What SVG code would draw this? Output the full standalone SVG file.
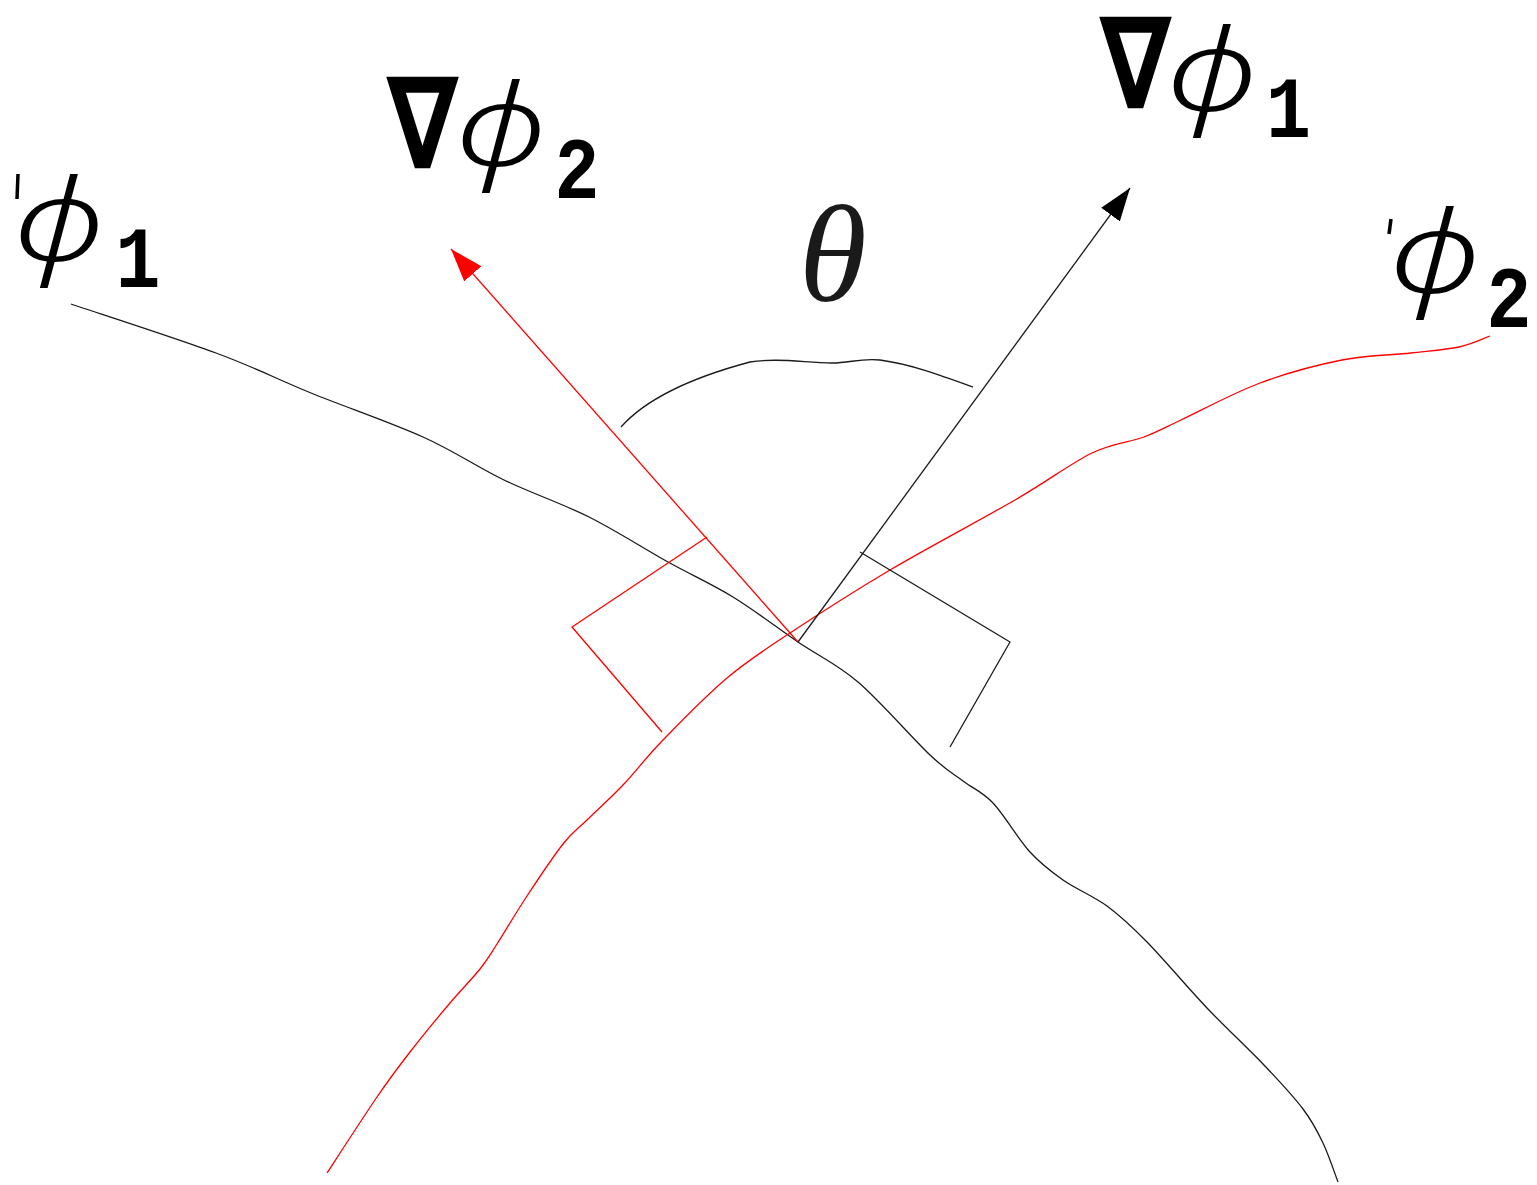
<svg xmlns="http://www.w3.org/2000/svg" width="1537" height="1185" viewBox="0 0 1537 1185">
<style>
.k{fill:none;stroke:#1a1a1a;stroke-width:1.3;stroke-linejoin:round}
.r{fill:none;stroke:#ff0000;stroke-width:1.3;stroke-linejoin:round}
.nab{font-family:"DejaVu Sans",sans-serif;font-weight:bold;font-size:127px;fill:#000}
.phi{font-family:"Noto Sans",sans-serif;font-style:italic;font-weight:300;font-size:114px;fill:#000}
.sub{font-family:"Liberation Mono",monospace;font-weight:bold;font-size:88px;fill:#000}
.th{font-family:"Liberation Serif",serif;font-style:italic;font-size:138px;fill:#1a1a1a}
.tick{stroke:#000;stroke-width:3.5}
</style>
<defs>
<marker id="ak" markerUnits="userSpaceOnUse" markerWidth="34" markerHeight="24" refX="33" refY="11.5" orient="auto"><path d="M0,0 L33,11.5 L0,23 z" fill="#000"/></marker>
<marker id="ar" markerUnits="userSpaceOnUse" markerWidth="34" markerHeight="24" refX="33" refY="11.5" orient="auto"><path d="M0,0 L33,11.5 L0,23 z" fill="#ff0000"/></marker>
</defs>
<g id="curve-phi1">
<path class="k" d="M71,304 C95.2,312.2 176,338.2 216,353 C256,367.8 276.5,379 311,393 C345.5,407 390.8,422.5 423,437 C455.2,451.5 476.3,466.7 504,480 C531.7,493.3 561.7,503.3 589,517 C616.3,530.7 644,548.7 668,562 C692,575.3 711.3,583.7 733,597 C754.7,610.3 777.2,627.8 798,642 C818.8,656.2 836,663.2 858,682 C880,700.8 912.5,738.5 930,755 C947.5,771.5 952.5,773 963,781 C973.5,789 981.8,791.2 993,803 C1004.2,814.8 1018.3,839.2 1030,852 C1041.7,864.8 1050.2,871 1063,880 C1075.8,889 1093,895.7 1107,906 C1121,916.3 1130.3,925 1147,942 C1163.7,959 1187.7,987.7 1207,1008 C1226.3,1028.3 1247,1047.2 1263,1064 C1279,1080.8 1293,1095.8 1303,1109 C1313,1122.2 1317.2,1130.8 1323,1143 C1328.8,1155.2 1335.5,1175.5 1338,1182"/>
</g>
<g id="curve-phi2">
<path class="r" d="M327,1173 C335.3,1160.3 363.2,1117.2 377,1097 C390.8,1076.8 397.8,1067.7 410,1052 C422.2,1036.3 438.3,1016.8 450,1003 C461.7,989.2 472.2,978.8 480,969 C487.8,959.2 489.2,956.2 497,944 C504.8,931.8 516,912.7 527,896 C538,879.3 553,856.7 563,844 C573,831.3 577,829.8 587,820 C597,810.2 610.3,798.3 623,785 C635.7,771.7 645.7,757.8 663,740 C680.3,722.2 705.8,695.8 727,678 C748.2,660.2 762.8,651 790,633 C817.2,615 852.5,592.2 890,570 C927.5,547.8 981.3,519.5 1015,500 C1048.7,480.5 1070.5,463.5 1092,453 C1113.5,442.5 1129.2,442.5 1144,437 C1158.8,431.5 1161.7,429 1181,420 C1200.3,411 1233.2,393 1260,383 C1286.8,373 1316.8,365 1342,360 C1367.2,355 1391.5,355.2 1411,353 C1430.5,350.8 1445.8,349.8 1459,347 C1472.2,344.2 1484.8,337.8 1490,336"/>
</g>
<g id="connectors">
<line class="r" x1="798" y1="642" x2="451" y2="249" marker-end="url(#ar)"/>
<line class="k" x1="798" y1="642" x2="1130" y2="188" marker-end="url(#ak)"/>
<polyline class="r" points="707,537 572,627 662,732"/>
<polyline class="k" points="860,552 1010,642 950,747"/>
<path class="k" d="M621,427 C645,400 690,378 750,362 C775,358 800,362 832,363 C850,363 860,358 880,360 C910,364 940,375 973,387"/>
</g>
<g id="label-theta"><text class="th" x="833" y="301" text-anchor="middle">θ</text></g>
<g id="label-grad-phi1">
<text class="nab" text-anchor="middle" transform="translate(1135.5,108) scale(0.82,1)">∇</text>
<text class="phi" text-anchor="middle" transform="translate(1212,111) scale(1.26,1)">ϕ</text>
<text class="sub" text-anchor="middle" transform="translate(1288.5,137) scale(0.85,1)">1</text>
</g>
<g id="label-grad-phi2">
<text class="nab" text-anchor="middle" transform="translate(422.5,168) scale(0.82,1)">∇</text>
<text class="phi" text-anchor="middle" transform="translate(501,166) scale(1.26,1)">ϕ</text>
<text class="sub" text-anchor="middle" transform="translate(577,198) scale(0.85,1)">2</text>
</g>
<g id="label-phi1">
<line class="tick" x1="18" y1="174" x2="17" y2="199"/>
<text class="phi" text-anchor="middle" transform="translate(59,261) scale(1.26,1)">ϕ</text>
<text class="sub" text-anchor="middle" transform="translate(138,287) scale(0.85,1)">1</text>
</g>
<g id="label-phi2">
<line class="tick" x1="1391" y1="219" x2="1389" y2="234"/>
<text class="phi" text-anchor="middle" transform="translate(1435,293) scale(1.26,1)">ϕ</text>
<text class="sub" text-anchor="middle" transform="translate(1509,327) scale(0.85,1)">2</text>
</g>
</svg>
